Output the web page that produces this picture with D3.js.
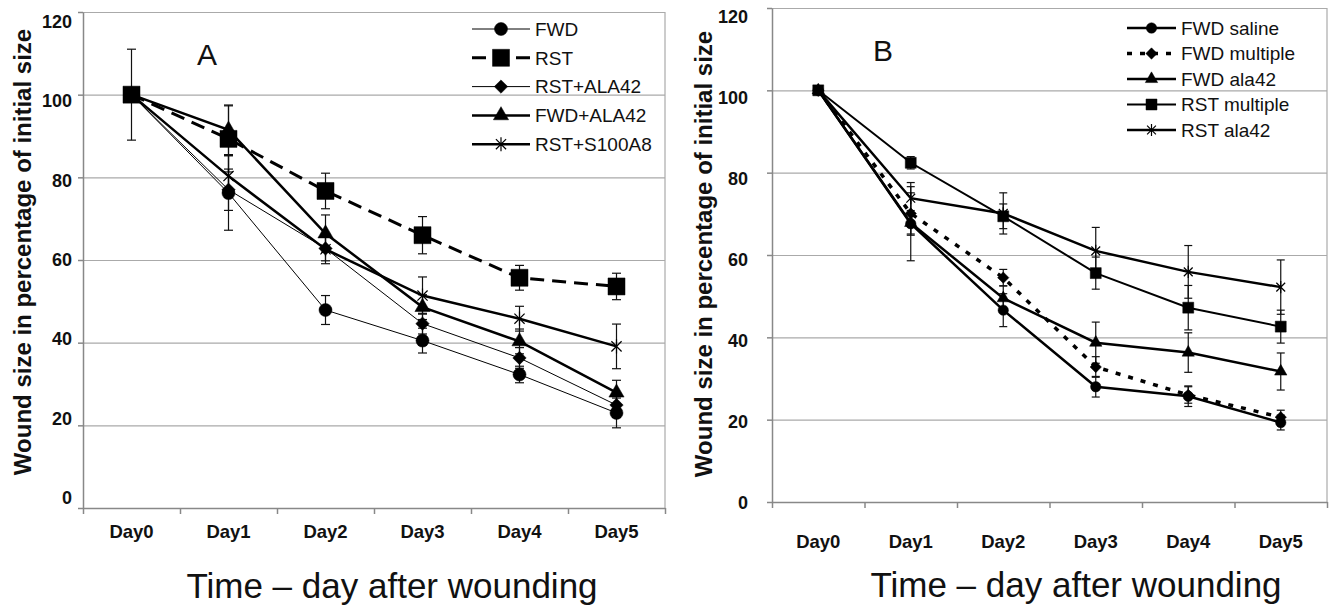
<!DOCTYPE html>
<head>
  <meta charset="utf-8">
  <script src="https://d3js.org/d3.v7.min.js"></script>
  <style>
    body { margin:0; background:#fff; }
    text { font-family: "Liberation Sans", Arial, Helvetica, sans-serif; fill:#111; }
  </style>
</head>
<body>
<script>
// ---- data ----
var days = ["Day0", "Day1", "Day2", "Day3", "Day4", "Day5"];
var yTicks = [0, 20, 40, 60, 80, 100, 120];

// panel A
var namesA = ["FWD", "RST", "RST+ALA42", "FWD+ALA42", "RST+S100A8"];
var fwdA        = [100, 76.2, 47.9, 40.5, 32.3, 23.0];
var fwdAErr     = [0, 9, 3.5, 3, 2, 3.6];
var rstA        = [100, 89.3, 76.7, 66.0, 55.7, 53.6];
var rstAErr     = [11, 8, 4.3, 4.5, 3, 3.2];
var rstAlaA     = [100, 77.0, 62.8, 44.6, 36.3, 24.9];
var rstAlaAErr  = [0, 5, 3, 2.5, 2.5, 3];
var fwdAlaA     = [100, 91.5, 66.4, 48.6, 40.3, 27.9];
var fwdAlaAErr  = [0, 6, 4.5, 3, 3, 3];
var rstS100A    = [100, 80.3, 62.6, 51.4, 45.8, 39.1];
var rstS100AErr = [0, 5, 3.5, 4.5, 3, 5.4];

// panel B
var namesB = ["FWD saline", "FWD multiple", "FWD ala42", "RST multiple", "RST ala42"];
var fwdSalB      = [100, 67.6, 46.6, 28.0, 25.7, 19.3];
var fwdSalBErr   = [0, 9, 4, 2.5, 2.5, 1.8];
var fwdMulB      = [100, 70.1, 54.5, 32.8, 26.0, 20.6];
var fwdMulBErr   = [0, 5, 2, 2.5, 2, 1.7];
var fwdAlaB      = [100, 67.8, 49.5, 38.7, 36.3, 31.7];
var fwdAlaBErr   = [0, 3, 3, 5, 4.8, 4.5];
var rstMulB      = [100, 82.4, 69.4, 55.6, 47.2, 42.6];
var rstMulBErr   = [0, 1.5, 3, 3.9, 5.4, 4];
var rstAlaB      = [100, 73.8, 70.1, 61.0, 55.9, 52.2];
var rstAlaBErr   = [0, 3.8, 5, 5.7, 6.4, 6.6];

var width = 1334, height = 607;
var svg = d3.select("body").append("svg")
    .attr("width", width)
    .attr("height", height);

// excel-like markers
var diamond = { draw: function(ctx, size) {
  var r = Math.sqrt(size / 2);
  ctx.moveTo(0, -r); ctx.lineTo(r, 0); ctx.lineTo(0, r); ctx.lineTo(-r, 0); ctx.closePath();
}};
var star = { draw: function(ctx, size) {
  var r = Math.sqrt(size) / 2, d = r * 0.72;
  ctx.moveTo(0, -r); ctx.lineTo(0, r);
  ctx.moveTo(-d, -d); ctx.lineTo(d, d);
  ctx.moveTo(-d, d); ctx.lineTo(d, -d);
}};

var panels = [
  {
    x0: 83, x1: 665, yTop: 12, yBot: 508, labTop: 21.5, labBot: 498, labPad: 11, dayPad: 17,
    letter: "A", letterX: 207, letterY: 65,
    yTitleX: 31, yTitleY: 252, xTitleX: 392, xTitleY: 598,
    capW: 4.5,
    legX: 472, legLen: 58, legY: 29, legStep: 28.8,
    series: [
      { name: namesA[0], v: fwdA,     e: fwdAErr,     sym: d3.symbolCircle,   size: 133, fill: true,  w: 1,   dash: null },
      { name: namesA[1], v: rstA,     e: rstAErr,     sym: d3.symbolSquare,   size: 289, fill: true,  w: 3,   dash: "14,8" },
      { name: namesA[2], v: rstAlaA,  e: rstAlaAErr,  sym: diamond,           size: 90,  fill: true,  w: 1,   dash: null },
      { name: namesA[3], v: fwdAlaA,  e: fwdAlaAErr,  sym: d3.symbolTriangle, size: 100, fill: true,  w: 2.5, dash: null },
      { name: namesA[4], v: rstS100A, e: rstS100AErr, sym: star,              size: 200, fill: false, w: 2.5, dash: null }
    ]
  },
  {
    x0: 772, x1: 1327, yTop: 8, yBot: 502, labTop: 16.5, labBot: 503, labPad: 24, dayPad: 33,
    letter: "B", letterX: 883, letterY: 61,
    yTitleX: 712, yTitleY: 254, xTitleX: 1076, xTitleY: 597,
    capW: 4,
    legX: 1127, legLen: 49, legY: 28, legStep: 25.5,
    series: [
      { name: namesB[0], v: fwdSalB, e: fwdSalBErr, sym: d3.symbolCircle,   size: 85,  fill: true,  w: 2.5, dash: null },
      { name: namesB[1], v: fwdMulB, e: fwdMulBErr, sym: diamond,           size: 64,  fill: true,  w: 3.5, dash: "5,8" },
      { name: namesB[2], v: fwdAlaB, e: fwdAlaBErr, sym: d3.symbolTriangle, size: 66,  fill: true,  w: 2.5, dash: null },
      { name: namesB[3], v: rstMulB, e: rstMulBErr, sym: d3.symbolSquare,   size: 120, fill: true,  w: 2,   dash: null },
      { name: namesB[4], v: rstAlaB, e: rstAlaBErr, sym: star,              size: 150, fill: false, w: 2.5, dash: null }
    ]
  }
];

panels.forEach(function(p) {
  var g = svg.append("g");

  var x = d3.scaleBand().domain(days).range([p.x0, p.x1]);
  var xEdge = d3.scaleLinear().domain([0, days.length]).range([p.x0, p.x1]);
  var y = d3.scaleLinear().domain([0, 120]).range([p.yBot, p.yTop]);
  // the scanned tick labels sit on a slightly tighter spacing than the gridlines
  var yLab = d3.scaleLinear().domain([0, 120]).range([p.labBot, p.labTop]);
  var cx = function(i) { return x(days[i]) + x.bandwidth() / 2; };

  // gridlines
  g.append("g")
      .attr("transform", "translate(" + p.x0 + ",0)")
      .call(d3.axisLeft(y).tickValues(yTicks).tickSize(-(p.x1 - p.x0)).tickFormat(""))
      .call(function(a) {
        a.select(".domain").remove();
        a.selectAll("line").attr("stroke", "#aaa").attr("stroke-width", 1.2);
      });

  // right border of plot area
  g.append("line")
      .attr("x1", p.x1).attr("x2", p.x1)
      .attr("y1", y(120)).attr("y2", y(0))
      .attr("stroke", "#aaa").attr("stroke-width", 1.2);

  // y axis line + ticks
  g.append("g")
      .attr("transform", "translate(" + p.x0 + ",0)")
      .call(d3.axisLeft(y).tickValues(yTicks).tickSize(5).tickSizeOuter(0).tickFormat(""))
      .call(function(a) {
        a.select(".domain").attr("stroke", "#888").attr("stroke-width", 1.5);
        a.selectAll("line").attr("stroke", "#888").attr("stroke-width", 1.5);
      });
  // y tick labels
  g.append("g")
      .attr("transform", "translate(" + p.x0 + ",0)")
      .call(d3.axisLeft(yLab).tickValues(yTicks).tickSize(0).tickPadding(p.labPad))
      .call(function(a) {
        a.select(".domain").remove();
        a.selectAll("text").attr("font-size", 18).attr("font-weight", "bold")
          .attr("font-family", "Liberation Sans, Arial, sans-serif").attr("fill", "#111");
      });

  // x axis: ticks between categories
  g.append("g")
      .attr("transform", "translate(0," + p.yBot + ")")
      .call(d3.axisBottom(xEdge).tickValues(d3.range(0, days.length + 1)).tickSize(6).tickSizeOuter(0).tickFormat(""))
      .call(function(a) {
        a.select(".domain").attr("stroke", "#888").attr("stroke-width", 1.5);
        a.selectAll("line").attr("stroke", "#888").attr("stroke-width", 1.5);
      });
  g.append("g")
      .attr("transform", "translate(0," + p.yBot + ")")
      .call(d3.axisBottom(x).tickSize(0).tickPadding(p.dayPad))
      .call(function(a) {
        a.select(".domain").remove();
        a.selectAll("text").attr("font-size", 18.5).attr("font-weight", "bold")
          .attr("font-family", "Liberation Sans, Arial, sans-serif").attr("fill", "#111");
      });

  // titles
  g.append("text")
      .attr("transform", "translate(" + p.yTitleX + "," + p.yTitleY + ") rotate(-90)")
      .attr("text-anchor", "middle")
      .attr("font-size", 24).attr("font-weight", "bold")
      .text("Wound size in percentage of initial size");
  g.append("text")
      .attr("x", p.xTitleX).attr("y", p.xTitleY)
      .attr("text-anchor", "middle")
      .attr("font-size", 35)
      .text("Time \u2013 day after wounding");
  g.append("text")
      .attr("x", p.letterX).attr("y", p.letterY)
      .attr("text-anchor", "middle")
      .attr("font-size", 30)
      .text(p.letter);

  // error bars
  p.series.forEach(function(s) {
    var eb = g.append("g").attr("stroke", "#111").attr("stroke-width", 1.2);
    s.v.forEach(function(v, i) {
      if (!s.e[i]) return;
      var xi = cx(i), hi = y(v + s.e[i]), lo = y(v - s.e[i]);
      eb.append("line").attr("x1", xi).attr("x2", xi).attr("y1", hi).attr("y2", lo);
      eb.append("line").attr("x1", xi - p.capW).attr("x2", xi + p.capW).attr("y1", hi).attr("y2", hi);
      eb.append("line").attr("x1", xi - p.capW).attr("x2", xi + p.capW).attr("y1", lo).attr("y2", lo);
    });
  });

  // lines
  var line = d3.line().x(function(d, i) { return cx(i); }).y(function(d) { return y(d); });
  p.series.forEach(function(s) {
    g.append("path")
        .datum(s.v)
        .attr("d", line)
        .attr("fill", "none")
        .attr("stroke", "#000")
        .attr("stroke-width", s.w)
        .attr("stroke-dasharray", s.dash);
  });

  // markers
  p.series.forEach(function(s) {
    var sym = d3.symbol().type(s.sym).size(s.size);
    g.selectAll(null)
        .data(s.v)
        .enter()
        .append("path")
        .attr("transform", function(d, i) { return "translate(" + cx(i) + "," + y(d) + ")"; })
        .attr("d", sym)
        .attr("fill", s.fill ? "#000" : "none")
        .attr("stroke", "#000")
        .attr("stroke-width", s.fill ? 0.5 : 1.2);
  });

  // legend
  p.series.forEach(function(s, i) {
    var ly = p.legY + i * p.legStep;
    var lg = g.append("g");
    lg.append("line")
        .attr("x1", p.legX).attr("x2", p.legX + p.legLen)
        .attr("y1", ly).attr("y2", ly)
        .attr("stroke", "#000").attr("stroke-width", s.w)
        .attr("stroke-dasharray", s.dash);
    lg.append("path")
        .attr("transform", "translate(" + (p.legX + p.legLen / 2) + "," + ly + ")")
        .attr("d", d3.symbol().type(s.sym).size(s.size)())
        .attr("fill", s.fill ? "#000" : "none")
        .attr("stroke", "#000")
        .attr("stroke-width", s.fill ? 0.5 : 1.2);
    lg.append("text")
        .attr("x", p.legX + p.legLen + 5).attr("y", ly)
        .attr("dy", "0.36em")
        .attr("font-size", 19)
        .text(s.name);
  });
});
</script>
</body>
